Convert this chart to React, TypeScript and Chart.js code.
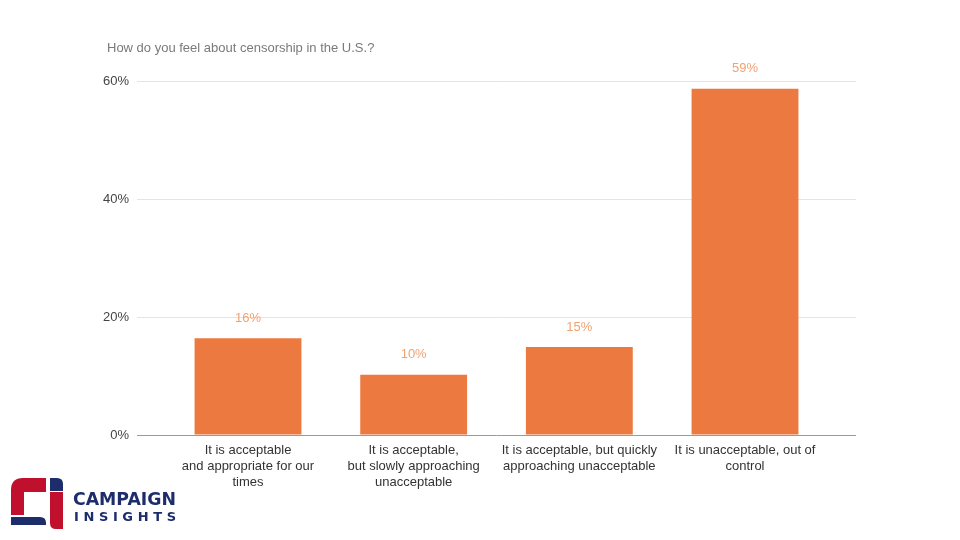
import React, { useEffect, useRef } from "react";
import { Chart, registerables } from "chart.js";

Chart.register(...registerables);

const title = "How do you feel about censorship in the U.S.?";
const categories: string[][] = [
  ["It is acceptable", "and appropriate for our", "times"],
  ["It is acceptable,", "but slowly approaching", "unacceptable"],
  ["It is acceptable, but quickly", "approaching unacceptable"],
  ["It is unacceptable, out of", "control"],
];
const values = [16.4, 10.2, 14.9, 58.7];
const valueLabels = ["16%", "10%", "15%", "59%"];
const yTicks = [0, 20, 40, 60];

const BAR = "#EC7A40";
const LABEL = "#F2A271";
const FONT = "'Liberation Sans', Arial, sans-serif";

export default function App() {
  const ref = useRef<HTMLCanvasElement>(null);
  useEffect(() => {
    if (!ref.current) return;
    const overlay = {
      id: "overlay",
      afterDatasetsDraw(chart: any) {
        const ctx = chart.ctx;
        ctx.save();
        ctx.font = `13px ${FONT}`;
        ctx.fillStyle = "#7a7a7a";
        ctx.textAlign = "left";
        ctx.textBaseline = "middle";
        ctx.fillText(title, 107, 48);
        const meta = chart.getDatasetMeta(0);
        ctx.fillStyle = LABEL;
        ctx.textAlign = "center";
        meta.data.forEach((bar: any, i: number) => {
          ctx.fillText(valueLabels[i], bar.x, bar.y - 20);
        });
        ctx.restore();
      },
    };
    const chart = new Chart(ref.current, {
      type: "bar",
      data: {
        datasets: [
          {
            data: values.map((v, i) => ({ x: i, y: v })),
            backgroundColor: BAR,
            borderWidth: 0,
            barPercentage: 0.645,
            categoryPercentage: 1,
          },
        ],
      },
      plugins: [overlay],
      options: {
        animation: false,
        responsive: false,
        layout: { padding: { top: 81, right: 104, left: 0, bottom: 0 } },
        plugins: { legend: { display: false }, tooltip: { enabled: false } },
        scales: {
          x: {
            type: "linear",
            min: -0.67,
            max: 3.67,
            offset: false,
            grid: { display: false },
            border: { display: false },
            afterBuildTicks(scale: any) {
              scale.ticks = categories.map((_, i) => ({ value: i }));
            },
            afterFit(scale: any) {
              scale.height = 105;
            },
            ticks: {
              autoSkip: false,
              maxRotation: 0,
              minRotation: 0,
              padding: 0,
              color: "#333333",
              font: { family: FONT, size: 13, lineHeight: 1.2 },
              callback: (v: any) => categories[Math.round(Number(v))] ?? "",
            },
          },
          y: {
            min: 0,
            max: 60,
            afterBuildTicks(scale: any) {
              scale.ticks = yTicks.map((v) => ({ value: v }));
            },
            afterFit(scale: any) {
              scale.width = 137;
            },
            border: { display: false },
            grid: {
              drawTicks: false,
              color: (c: any) => (c.tick && c.tick.value === 0 ? "#9a9a9a" : "#e4e4e4"),
              lineWidth: 1,
            },
            ticks: {
              padding: 8,
              color: "#444444",
              font: { family: FONT, size: 13 },
              callback: (v: any) => `${v}%`,
            },
          },
        },
      },
    });
    return () => chart.destroy();
  }, []);

  return (
    <div style={{ position: "fixed", left: 0, top: 0, width: 960, height: 540, background: "#fff" }}>
      <canvas ref={ref} width={960} height={540} style={{ position: "absolute", left: 0, top: 0 }} />
      <svg width={200} height={70} style={{ position: "absolute", left: 0, top: 470 }}>
        <path d="M11 20 Q11 8 23 8 L46 8 L46 22 L24 22 L24 45 L11 45 Z" fill="#C0102E" />
        <path d="M11 47 L40 47 Q46 47 46 53 L46 55 L11 55 Z" fill="#1D2D6B" />
        <path d="M50 8 L57 8 Q63 8 63 14 L63 21 L50 21 Z" fill="#1D2D6B" />
        <path d="M50 22 L63 22 L63 59 L56 59 Q50 59 50 53 Z" fill="#C0102E" />
        <text x={73} y={35} fontFamily="'DejaVu Sans', sans-serif" fontWeight="bold" fontSize={17} fill="#1D2D6B" textLength={103} lengthAdjust="spacingAndGlyphs">CAMPAIGN</text>
        <text x={74} y={51} fontFamily="'DejaVu Sans', sans-serif" fontWeight="bold" fontSize={13} fill="#1D2D6B" textLength={102} lengthAdjust="spacing">INSIGHTS</text>
      </svg>
    </div>
  );
}
